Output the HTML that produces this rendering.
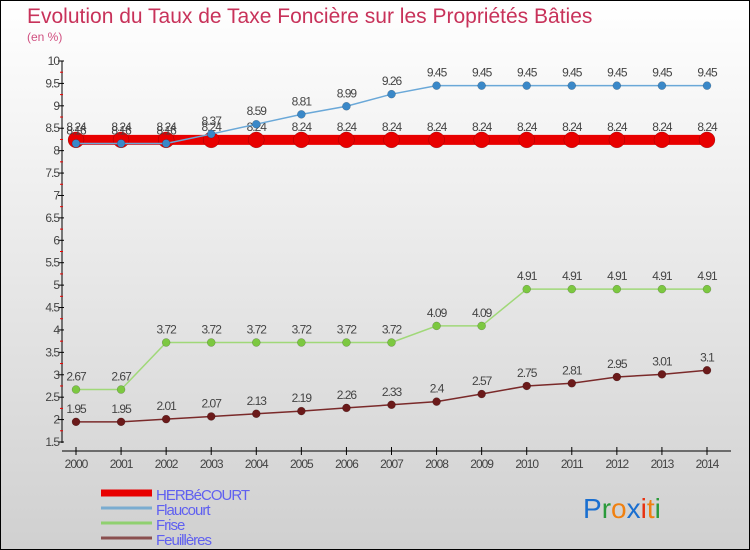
<!DOCTYPE html>
<html><head><meta charset="utf-8">
<style>
body{margin:0;}
#wrap{position:relative;width:748px;height:548px;border:1px solid #000;background:linear-gradient(#ffffff,#d0d0d0);font-family:"Liberation Sans",sans-serif;overflow:hidden;}
svg{position:absolute;left:0;top:0;}
</style></head><body>
<div id="wrap">
<svg id="c" width="748" height="548">
<text x="26" y="22" font-size="21" fill="#c8325a">Evolution du Taux de Taxe Foncière sur les Propriétés Bâties</text>
<text x="26" y="40" font-size="12" fill="#d05080">(en %)</text>
</svg>
</div>
<script>
const years=[2000,2001,2002,2003,2004,2005,2006,2007,2008,2009,2010,2011,2012,2013,2014];
const herbecourt=[8.24,8.24,8.24,8.24,8.24,8.24,8.24,8.24,8.24,8.24,8.24,8.24,8.24,8.24,8.24];
const flaucourt=[8.16,8.16,8.16,8.37,8.59,8.81,8.99,9.26,9.45,9.45,9.45,9.45,9.45,9.45,9.45];
const frise=[2.67,2.67,3.72,3.72,3.72,3.72,3.72,3.72,4.09,4.09,4.91,4.91,4.91,4.91,4.91];
const feuilleres=[1.95,1.95,2.01,2.07,2.13,2.19,2.26,2.33,2.4,2.57,2.75,2.81,2.95,3.01,3.1];
const yTicks=[1.5,2,2.5,3,3.5,4,4.5,5,5.5,6,6.5,7,7.5,8,8.5,9,9.5,10];
const seriesNames=["HERBéCOURT","Flaucourt","Frise","Feuillères"];

const svg=document.getElementById('c');
const NS="http://www.w3.org/2000/svg";
function X(i){return 75+i*(706-75)/(years.length-1);}
function Y(v){return 441-(v-1.5)*(441-60)/8.5;}
function mk(tag,attrs,parent){const e=document.createElementNS(NS,tag);for(const k in attrs)e.setAttribute(k,attrs[k]);(parent||svg).appendChild(e);return e;}
function fmt(v){return String(v).replace(/^(\d)\.(\d+)$/,(m,a,b)=>a+'.'+b).replace('.0','.');}

// axes
let ax=mk('line',{x1:61,y1:60,x2:61,y2:442,stroke:'#000','stroke-width':1});


let xa=mk('line',{x1:61,y1:450,x2:730,y2:450,stroke:'#000','stroke-width':1});


yTicks.forEach(t=>{
  const y=Y(t);
  const tk=mk('line',{x1:57,y1:y,x2:63,y2:y,stroke:'#000'});
  
  
  const lb=mk('text',{x:58,y:y+4,'font-size':12,fill:'#444','text-anchor':'end','letter-spacing':'-1'});
  lb.textContent=String(t);
  
  
  if(t<10){const m=mk('line',{x1:59,y1:Y(t+0.25),x2:62,y2:Y(t+0.25),stroke:'#e00'});
  
  }
});
years.forEach((yr,i)=>{
  const x=X(i);
  const tk=mk('line',{x1:x,y1:446,x2:x,y2:454,stroke:'#000'});
  
  
  const lb=mk('text',{x:x,y:467,'font-size':12,fill:'#444','text-anchor':'middle','letter-spacing':'-1'});
  lb.textContent=String(yr);
  
  
});

function series(vals,color,lw,r,fill,name){
  const g=mk('g',{});
  
  
  const pts=vals.map((v,i)=>X(i)+','+Y(v)).join(' ');
  const pl=mk('polyline',{points:pts,fill:'none',stroke:color,'stroke-width':lw},g);
  
  
  vals.forEach((v,i)=>{
    const c=mk('circle',{cx:X(i),cy:Y(v),r:r,fill:fill,stroke:'rgba(0,0,0,0.3)','stroke-width':0.5},g);
    
    
    const t=mk('text',{x:X(i),y:Y(v)-9,'font-size':12,fill:'#444','text-anchor':'middle','letter-spacing':'-1'},g);
    t.textContent=String(v);
    
    
  });
}
series(feuilleres,'#7a2a2a',1.5,4,'#6b1a1a','feuilleres');
series(frise,'#a0d878',1.5,4,'#7cc840','frise');
series(herbecourt,'#e80000',10,8,'#e80000','herbecourt');
series(flaucourt,'#6aa8d8',1.5,4,'#3a88c8','flaucourt');

// legend
const legColors=['#e80000','#7aacd0','#90d070','#8a5050'];
const legW=[7,3,3,3];
seriesNames.forEach((n,i)=>{
  const y=492+i*15;
  const l=mk('line',{x1:100,y1:y,x2:151,y2:y,stroke:legColors[i],'stroke-width':legW[i]});
  
  
  const t=mk('text',{x:155,y:y+7,'font-size':15,fill:'#6060f0','letter-spacing':'-1'});
  t.textContent=n;
  
  
});

// logo
const logo=mk('text',{x:582,y:517,'font-size':28,'font-family':'Liberation Sans, sans-serif'});


[['P','#1a6fd0'],['r','#2a9a3a'],['o','#f08010'],['x','#1a6fd0'],['i','#e83010'],['t','#f08010'],['i','#2a9a3a']].forEach(([ch,col])=>{
  const s=mk('tspan',{fill:col},logo);s.textContent=ch;
});
</script>
</body></html>
